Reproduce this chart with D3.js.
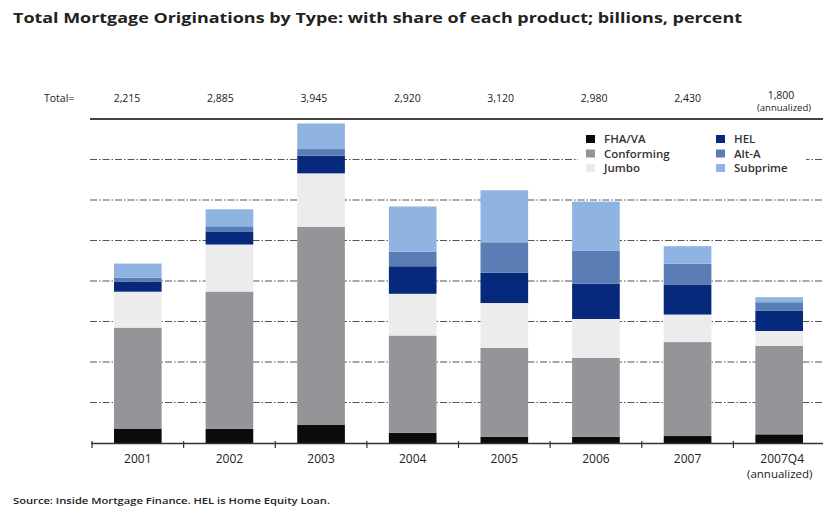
<!DOCTYPE html>
<html>
<head>
<meta charset="utf-8">
<title>Total Mortgage Originations by Type</title>
<script src="https://cdn.jsdelivr.net/npm/d3@7"></script>
<style>
  body { margin: 0; background: #fff; }
  svg text { font-family: "Open Sans", "DejaVu Sans", sans-serif; fill: #222; }
</style>
</head>
<body>
<div id="chart"></div>
<script>
// values in billions
var years = ["2001", "2002", "2003", "2004", "2005", "2006", "2007", "2007Q4"];
var totals = ["2,215", "2,885", "3,945", "2,920", "3,120", "2,980", "2,430", "1,800"];
var fha = [173, 175, 222, 127, 78, 78, 86, 107];
var conforming = [1251, 1695, 2448, 1200, 1095, 972, 1160, 1094];
var jumbo = [444, 580, 659, 515, 555, 481, 340, 182];
var hel = [123, 155, 217, 340, 375, 436, 365, 248];
var altA = [49, 70, 83, 180, 375, 404, 262, 107];
var subprime = [175, 210, 316, 558, 642, 609, 217, 62];
var yTicks = [500, 1000, 1500, 2000, 2500, 3000, 3500];

var series = [
  {key: "FHA/VA", values: fha, color: "#0b0b0b"},
  {key: "Conforming", values: conforming, color: "#939598"},
  {key: "Jumbo", values: jumbo, color: "#ececec"},
  {key: "HEL", values: hel, color: "#06297b"},
  {key: "Alt-A", values: altA, color: "#5a7db6"},
  {key: "Subprime", values: subprime, color: "#8fb4e2"}
];

var W = 823, H = 508;
var svg = d3.select("#chart").append("svg").attr("width", W).attr("height", H);

var x = d3.scaleBand().domain(years).range([92, 825]).paddingInner(0.48).paddingOuter(0.24);
var y = d3.scaleLinear().domain([0, 4000]).range([443, 119]);
var xTot = d3.scalePoint().domain(years).range([127, 781]);

// title
svg.append("text").attr("x", 13).attr("y", 23)
  .attr("textLength", 729).attr("lengthAdjust", "spacingAndGlyphs")
  .style("font-size", "14px").style("font-weight", "bold")
  .text("Total Mortgage Originations by Type: with share of each product; billions, percent");

// totals row
svg.append("text").attr("x", 44).attr("y", 102).style("font-size", "10.5px").text("Total=");
svg.selectAll(".tot").data(years).enter().append("text")
  .attr("class", "tot")
  .attr("x", function(d){ return xTot(d); })
  .attr("y", function(d, i){ return i == years.length - 1 ? 98.5 : 102; })
  .attr("text-anchor", "middle").style("font-size", "10.5px")
  .text(function(d, i){ return totals[i]; });
svg.append("text").attr("x", 757).attr("y", 111).style("font-size", "9.5px").text("(annualized)");

// grid
svg.selectAll(".grid").data(yTicks).enter().append("line")
  .attr("x1", 90).attr("x2", W)
  .attr("y1", function(d){ return y(d); }).attr("y2", function(d){ return y(d); })
  .attr("stroke", "#555").attr("stroke-width", 1.2)
  .attr("stroke-dasharray", "7,2,1.5,2");
svg.append("line").attr("x1", 90).attr("x2", W).attr("y1", y(4000)).attr("y2", y(4000))
  .attr("stroke", "#444").attr("stroke-width", 2);

// stacked bars
var table = years.map(function(d, i){
  var row = {year: d};
  series.forEach(function(s){ row[s.key] = s.values[i]; });
  return row;
});
var stack = d3.stack().keys(series.map(function(s){ return s.key; }))(table);

svg.selectAll(".layer").data(stack).enter().append("g")
  .attr("fill", function(d, i){ return series[i].color; })
  .selectAll("rect").data(function(d){ return d; }).enter().append("rect")
  .attr("x", function(d){ return x(d.data.year); })
  .attr("width", x.bandwidth())
  .attr("y", function(d){ return y(d[1]); })
  .attr("height", function(d){ return y(d[0]) - y(d[1]); });

// legend (white box over grid)
var lg = svg.append("g");
lg.append("rect").attr("x", 578).attr("y", 126).attr("width", 228).attr("height", 52).attr("fill", "#fff");
series.forEach(function(s, i){
  var col = Math.floor(i / 3), row = i % 3;
  var lx = 586 + col * 130, ly = 139 + row * 14.5;
  lg.append("rect").attr("x", lx).attr("y", ly - 4).attr("width", 9).attr("height", 8).attr("fill", s.color);
  lg.append("text").attr("x", lx + 18).attr("y", ly + 4)
    .style("font-size", "11.5px").style("font-weight", "600").style("fill", "#333")
    .text(s.key);
});

// x axis
svg.append("line").attr("x1", 91).attr("x2", W).attr("y1", 443.5).attr("y2", 443.5)
  .attr("stroke", "#333").attr("stroke-width", 1.5);
svg.selectAll(".tick").data(years).enter().append("line")
  .attr("x1", function(d){ return x(d) + x.bandwidth() / 2 - x.step() / 2; })
  .attr("x2", function(d){ return x(d) + x.bandwidth() / 2 - x.step() / 2; })
  .attr("y1", 441).attr("y2", 448).attr("stroke", "#333").attr("stroke-width", 1.2);
svg.selectAll(".xl").data(years).enter().append("text")
  .attr("x", function(d){ return x(d) + x.bandwidth() / 2 + (d == "2007Q4" ? 3 : 0); })
  .attr("y", 463).attr("text-anchor", "middle").style("font-size", "12px")
  .text(function(d){ return d; });
svg.append("text").attr("x", 747).attr("y", 478).style("font-size", "11.5px").text("(annualized)");

// source
svg.append("text").attr("x", 13).attr("y", 504)
  .attr("textLength", 317).attr("lengthAdjust", "spacingAndGlyphs")
  .style("font-size", "8.5px").style("font-weight", "600")
  .text("Source: Inside Mortgage Finance.  HEL is Home Equity Loan.");
</script>
</body>
</html>
